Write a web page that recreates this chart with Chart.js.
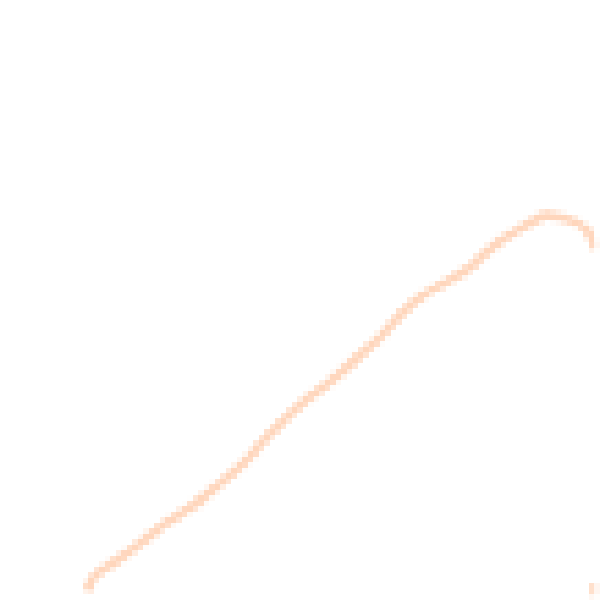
<!DOCTYPE html>
<html>
<head>
<meta charset="utf-8">
<script src="https://cdn.jsdelivr.net/npm/chart.js@4"></script>
<style>
  html, body { margin: 0; padding: 0; background: #fff; }
  #wrap { width: 600px; height: 600px; }
  #curve { image-rendering: pixelated; }
</style>
</head>
<body>
<div id="wrap"><canvas id="curve"></canvas></div>
<script>
// Curve (x and y in 0..100 units)
const curveX = [13.8, 15.2, 18.8, 22.5, 25, 27.2, 30.7, 33.3, 35.8, 38.7, 41.7, 44.7, 47.5, 50.8,
  54.2, 57.5, 60.8, 64.2, 67.5, 70.8, 74.2, 77.5, 80, 81.7, 84.2, 86.7, 89.2, 91.7, 94.2, 96.7, 98.7, 100];
const curveY = [0.8, 3.3, 5.8, 8.5, 10.5, 12.2, 14.5, 16.3, 18.5, 20.8, 23.7, 27.3, 30, 33,
  35.5, 38.3, 41.3, 44.5, 48, 50.8, 52.8, 54.7, 56.7, 58.2, 60.3, 61.8, 63.3, 64.3, 64, 63.2, 61.7, 58.7];

// small piece entering at the bottom right corner
const edgeX = [99.8, 99.8];
const edgeY = [2, -3];

const toPoints = (xs, ys) => xs.map((x, i) => ({ x: x, y: ys[i] }));

const peach = "rgb(255, 214, 188)";

let ctx = document.getElementById("curve").getContext("2d");
let chart = new Chart(ctx, {
  type: "line",
  data: {
    datasets: [
      { data: toPoints(curveX, curveY), borderColor: peach, borderWidth: 9, pointRadius: 0, tension: 0.3 },
      { data: toPoints(edgeX, edgeY), borderColor: peach, borderWidth: 9, pointRadius: 0 }
    ]
  },
  options: {
    responsive: true,
    maintainAspectRatio: false,
    animation: false,
    devicePixelRatio: 1 / 5.5,
    layout: { padding: 0 },
    plugins: { legend: { display: false }, tooltip: { enabled: false } },
    scales: {
      x: { type: "linear", min: 0, max: 100, display: false },
      y: { min: 0, max: 100, display: false }
    }
  }
});
</script>
</body>
</html>
